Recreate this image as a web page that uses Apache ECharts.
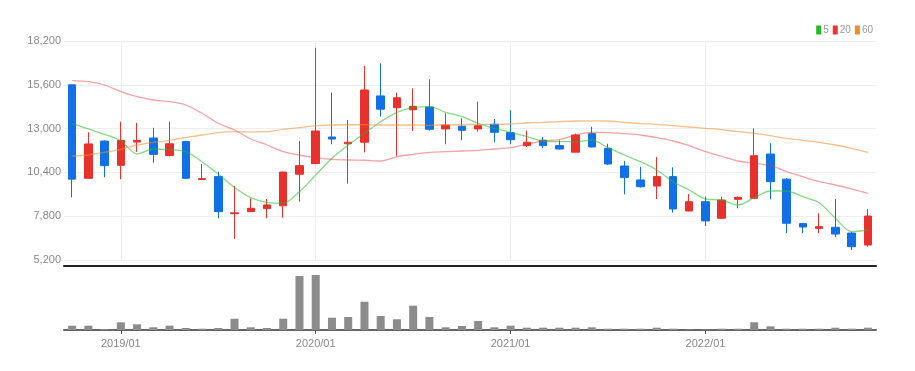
<!DOCTYPE html>
<html>
<head>
<meta charset="utf-8">
<script src="https://cdn.jsdelivr.net/npm/echarts@6/dist/echarts.min.js"></script>
<style>
html,body{margin:0;padding:0;background:#fff;}
#chart{width:915px;height:371px;}
</style>
</head>
<body>
<div id="chart"></div>
<script>
const categories = [
  '2018/10','2018/11','2018/12',
  '2019/01','2019/02','2019/03','2019/04','2019/05','2019/06','2019/07','2019/08','2019/09','2019/10','2019/11','2019/12',
  '2020/01','2020/02','2020/03','2020/04','2020/05','2020/06','2020/07','2020/08','2020/09','2020/10','2020/11','2020/12',
  '2021/01','2021/02','2021/03','2021/04','2021/05','2021/06','2021/07','2021/08','2021/09','2021/10','2021/11','2021/12',
  '2022/01','2022/02','2022/03','2022/04','2022/05','2022/06','2022/07','2022/08','2022/09','2022/10','2022/11'
];
const openP  = [15600,10050,12260,10820,12200,12440,11400,12230,9980,10150,7950,8070,8250,8420,10290,10920,12500,12100,12190,14940,14240,14120,14280,12980,13140,12980,13260,12760,11990,12310,11990,11600,12700,11830,10780,9950,9590,10150,8110,8660,7680,8800,8860,11490,10000,7360,7080,7140,6800,6090];
const closeP = [10000,12090,10800,12300,12300,11470,12100,10050,10030,8070,8000,8270,8470,10420,10800,12860,12380,12190,15290,14150,14830,14320,12960,13210,12900,13170,12780,12340,12190,11990,11790,12620,11910,10900,10090,9550,10150,8230,8660,7520,8760,8920,11390,9850,7380,7160,7180,6740,5990,7810];
const lowP   = [8920,10050,10110,10000,11620,10980,11350,10000,9980,7680,6450,8050,7680,7710,8660,10900,12070,9730,11590,13710,11390,12860,12880,12070,12310,12820,12190,12070,11910,11830,11750,11590,11870,10840,9100,9500,8820,8010,8080,7220,7630,8270,8850,8800,6790,6790,6790,6560,5790,5990];
const highP  = [15600,12780,12300,13410,13340,13050,13410,12280,10900,10440,9600,8860,8820,10450,12260,17800,15130,13510,16720,16880,15130,15390,15930,13910,13610,14600,13570,14090,12880,12500,12310,12700,13110,12100,11080,10740,11310,10700,9120,8960,8960,8980,13020,12130,10060,7400,7970,8820,6870,8230];
const ma5  = [13315,12977,12660,12264,11492,11789,11748,11630,11036,10287,9504,8900,8620,8565,9255,10246,11237,12027,12721,13410,13968,14241,14300,13968,13707,13315,13018,12780,12519,12264,12223,12223,12323,11867,11433,11036,10543,9848,9355,8821,8762,8465,8898,9296,9296,8958,8602,7676,6880,6981];
const ma20 = [15844,15785,15588,15191,14894,14698,14597,14401,13908,13315,12917,12383,12027,11630,11433,11273,11178,11136,11120,11077,11332,11474,11593,11630,11670,11710,11789,11867,12068,12264,12342,12620,12780,12760,12697,12620,12462,12264,11985,11630,11355,11077,10940,10800,10442,10145,9848,9652,9415,9159];
const ma60 = [11374,11433,11593,11771,12027,12187,12306,12462,12620,12757,12816,12800,12816,12958,13055,13172,13214,13230,13230,13214,13214,13214,13196,13230,13230,13255,13255,13274,13333,13372,13410,13451,13460,13451,13372,13294,13255,13172,13095,13018,12936,12816,12721,12580,12424,12306,12187,12027,11830,11593];
const volume = [43,43,10,77,57,27,43,20,13,20,113,27,20,113,540,550,123,130,283,140,107,243,130,27,40,90,27,43,23,23,23,23,27,13,13,13,23,13,5,5,13,13,77,37,13,13,13,23,13,23];
const legendNames = ['5','20','60'];

const kData = categories.map((c, i) => [openP[i], closeP[i], lowP[i], highP[i]]);
const isYearStart = (idx, val) => String(val).slice(5) === '01';
const fmt = v => String(v).replace(/\B(?=(\d{3})+(?!\d))/g, ',');
const FONT = 'Liberation Sans';

const chart = echarts.init(document.getElementById('chart'), null, {renderer: 'canvas'});
chart.setOption({
  animation: false,
  backgroundColor: '#fff',
  textStyle: {fontFamily: FONT},
  legend: {
    data: legendNames,
    right: 37, top: 20,
    icon: 'rect', itemWidth: 5, itemHeight: 9, itemGap: 4,
    textStyle: {color: '#999', fontSize: 10, fontFamily: FONT, padding: [0, 0, 0, -3]}
  },
  grid: [
    {left: 64, right: 39, top: 41, bottom: 111},
    {left: 64, right: 39, top: 266, bottom: 41}
  ],
  xAxis: [
    {
      type: 'category', gridIndex: 0, data: categories, boundaryGap: true,
      axisLine: {show: false}, axisTick: {show: false}, axisLabel: {show: false},
      splitLine: {show: true, interval: isYearStart, alignWithLabel: true, lineStyle: {color: '#eee', width: 1}}
    },
    {
      type: 'category', gridIndex: 1, data: categories, boundaryGap: true,
      axisLine: {show: true, lineStyle: {color: '#666', width: 2}},
      axisTick: {show: true, interval: isYearStart, alignWithLabel: true, length: 4, lineStyle: {color: '#555'}},
      axisLabel: {show: true, interval: isYearStart, color: '#888', fontSize: 11, margin: 8, fontFamily: FONT},
      splitLine: {show: false}
    },
    {
      type: 'category', gridIndex: 1, data: categories, position: 'top', boundaryGap: true,
      axisLine: {show: true, lineStyle: {color: '#222', width: 2}},
      axisTick: {show: false}, axisLabel: {show: false}, splitLine: {show: false}
    }
  ],
  yAxis: [
    {
      type: 'value', gridIndex: 0, min: 5200, max: 18200, interval: 2600,
      axisLine: {show: false}, axisTick: {show: false},
      axisLabel: {color: '#888', fontSize: 11, margin: 3, formatter: fmt, fontFamily: FONT},
      splitLine: {show: true, lineStyle: {color: '#eee', width: 1}}
    },
    {
      type: 'value', gridIndex: 1, min: 0, max: 640, show: false,
      splitLine: {show: false}
    }
  ],
  series: [
    {
      type: 'candlestick', name: 'price', xAxisIndex: 0, yAxisIndex: 0,
      data: kData, barWidth: 8,
      itemStyle: {color: '#e8302c', color0: '#1170e6', borderColor: '#e8302c', borderColor0: '#1170e6', borderWidth: 1}
    },
    {
      type: 'line', name: legendNames[0], data: ma5, xAxisIndex: 0, yAxisIndex: 0,
      smooth: 0.3, showSymbol: false, symbol: 'none',
      itemStyle: {color: '#22bb22'},
      lineStyle: {color: '#22bb22', width: 1.3, opacity: 0.55}
    },
    {
      type: 'line', name: legendNames[1], data: ma20, xAxisIndex: 0, yAxisIndex: 0,
      smooth: 0.3, showSymbol: false, symbol: 'none',
      itemStyle: {color: '#ee3333'},
      lineStyle: {color: '#ee3333', width: 1.3, opacity: 0.45}
    },
    {
      type: 'line', name: legendNames[2], data: ma60, xAxisIndex: 0, yAxisIndex: 0,
      smooth: 0.3, showSymbol: false, symbol: 'none',
      itemStyle: {color: '#f08c2a'},
      lineStyle: {color: '#f08c2a', width: 1.3, opacity: 0.55}
    },
    {
      type: 'bar', name: 'volume', data: volume, xAxisIndex: 1, yAxisIndex: 1,
      barWidth: 8, itemStyle: {color: '#8c8c8c'}
    }
  ]
});
</script>
</body>
</html>
